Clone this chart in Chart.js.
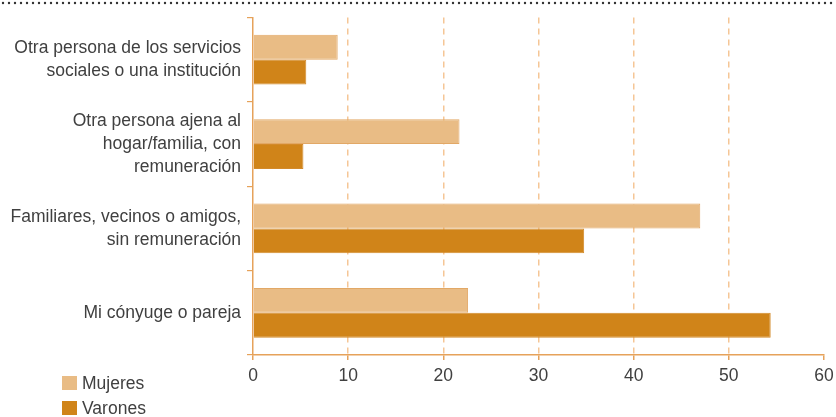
<!DOCTYPE html>
<html><head><meta charset="utf-8">
<script src="https://cdn.jsdelivr.net/npm/chart.js@4/dist/chart.umd.min.js"></script>
<style>html,body{margin:0;padding:0;background:#fff}#wrap{width:836px;height:417px;position:relative}</style>
</head><body><div id="wrap"><canvas id="c" width="836" height="417"></canvas></div>
<script>
const categories = [
  ["Otra persona de los servicios", "sociales o una institución"],
  ["Otra persona ajena al", "hogar/familia, con", "remuneración"],
  ["Familiares, vecinos o amigos,", "sin remuneración"],
  ["Mi cónyuge o pareja"]
];
const mujeres = [8.9, 21.7, 47.0, 22.6];
const varones = [5.6, 5.3, 34.8, 54.4];
const seriesNames = ["Mujeres", "Varones"];
const xTicks = [0, 10, 20, 30, 40, 50, 60];

const cMuj = "#E9BC85", cMujB = "#E2A866", cVar = "#D08419", axisC = "#E6A25A", gridC = "#F5C696";
const txt = "#404040";
const FONT = "'Liberation Sans', Arial, Helvetica, sans-serif";
const FS = 17.5;

const deco = {
  id: "deco",
  beforeDraw(chart) {
    const ctx = chart.ctx;
    ctx.save();
    ctx.strokeStyle = "#333";
    ctx.lineWidth = 2.4;
    ctx.lineCap = "round";
    ctx.setLineDash([0, 6]);
    ctx.beginPath(); ctx.moveTo(3, 3); ctx.lineTo(836, 3); ctx.stroke();
    ctx.restore();
  },
  afterDraw(chart) {
    const ctx = chart.ctx;
    ctx.save();
    const items = [[cMuj, 383], [cVar, 408]];
    ctx.font = FS + "px " + FONT;
    ctx.textBaseline = "middle";
    items.forEach((it, i) => {
      ctx.fillStyle = it[0];
      ctx.fillRect(62, it[1] - 7, 15, 14);
      ctx.fillStyle = txt;
      ctx.fillText(chart.data.datasets[i].label, 82, it[1] + 1);
    });
    ctx.restore();
  }
};

new Chart(document.getElementById("c"), {
  type: "bar",
  data: {
    labels: categories,
    datasets: [
      { label: seriesNames[0], data: mujeres, backgroundColor: cMuj, borderColor: cMujB, borderWidth: 1, categoryPercentage: 0.59, barPercentage: 1.0 },
      { label: seriesNames[1], data: varones, backgroundColor: cVar, borderColor: "#D38A2A", borderWidth: 1, categoryPercentage: 0.59, barPercentage: 1.0 }
    ]
  },
  options: {
    indexAxis: "y",
    responsive: false,
    animation: false,
    layout: { padding: { top: 14, right: 12, left: 0, bottom: 0 } },
    plugins: { legend: { display: false }, tooltip: { enabled: false } },
    scales: {
      x: {
        min: 0, max: 60,
        afterBuildTicks: s => { s.ticks = xTicks.map(v => ({ value: v })); },
        afterFit: s => { s.height = 62; s.paddingRight = 0; s.paddingLeft = 0; },
        border: { color: axisC, width: 1.5, dash: [6, 5] },
        grid: {
          color: ctx => (ctx.tick && (ctx.tick.value === 0 || ctx.tick.value === 60)) ? "rgba(0,0,0,0)" : gridC,
          tickColor: axisC,
          lineWidth: 1.5,
          tickLength: 5,
          drawTicks: true
        },
        ticks: { color: txt, font: { family: FONT, size: FS }, padding: 6, maxRotation: 0 }
      },
      y: {
        afterFit: s => { s.width = 253; },
        border: { color: axisC, width: 1.5 },
        grid: { offset: true, drawOnChartArea: false, color: axisC, tickLength: 6, lineWidth: 1.2 },
        ticks: { color: txt, font: { family: FONT, size: FS, lineHeight: 1.32 }, padding: 6, crossAlign: "near" }
      }
    }
  },
  plugins: [deco]
});
</script></body></html>
